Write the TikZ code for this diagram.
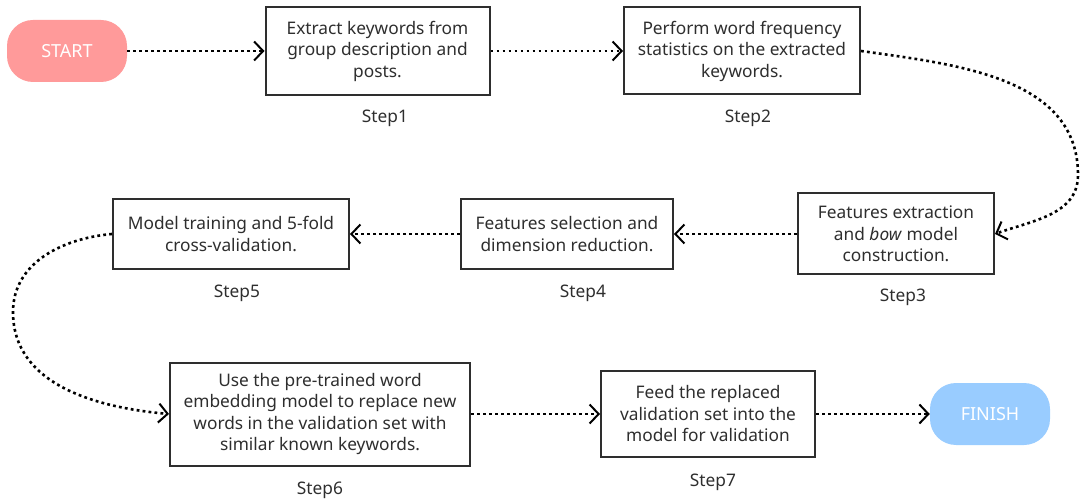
\documentclass[tikz,border=0pt]{standalone}
\usepackage{fontspec}
\setmainfont{Noto Sans}
\usetikzlibrary{arrows.meta}
\definecolor{txt}{HTML}{2E2E2E}
\definecolor{startc}{HTML}{FF9A9A}
\definecolor{finishc}{HTML}{99CCFF}
\tikzset{
  stepbox/.style={draw=txt, line width=2pt, fill=white, align=center, text=txt,
    inner sep=0pt, font=\fontsize{17.3}{21.5}\selectfont},
  pill/.style={rounded corners=26pt, inner sep=0pt, text=white,
    font=\fontsize{18}{20}\selectfont, minimum width=120pt, minimum height=62pt},
  steplabel/.style={text=txt, font=\fontsize{17.3}{20}\selectfont, inner sep=0pt},
  flow/.style={line width=2.6pt, dash pattern=on 2.8pt off 3.2pt,
    -{Straight Barb[length=9pt,width=19pt,line width=2pt]}}
}
\begin{document}
\begin{tikzpicture}[x=1pt,y=-1pt]
\useasboundingbox (0,0) rectangle (1081,502);

% start and finish terminals
\node[pill, fill=startc] (start) at (67,51) {START};
\node[pill, fill=finishc] (finish) at (990,414) {FINISH};

% process steps
\node[stepbox, minimum width=224pt, minimum height=88pt] (s1) at (377.5,51)
  {Extract keywords from\\group description and\\posts.};
\node[stepbox, minimum width=236pt, minimum height=87pt] (s2) at (742,51)
  {Perform word frequency\\statistics on the extracted\\keywords.};
\node[stepbox, minimum width=196pt, minimum height=81pt] (s3) at (896,234)
  {Features extraction\\and \emph{bow} model\\construction.};
\node[stepbox, minimum width=212pt, minimum height=70pt] (s4) at (567,234)
  {Features selection and\\dimension reduction.};
\node[stepbox, minimum width=236pt, minimum height=70pt] (s5) at (231,234)
  {Model training and 5-fold\\cross-validation.};
\node[stepbox, minimum width=300pt, minimum height=103pt] (s6) at (320,414)
  {Use the pre-trained word\\embedding model to replace new\\words in the validation set with\\similar known keywords.};
\node[stepbox, minimum width=214pt, minimum height=86pt] (s7) at (708,414)
  {Feed the replaced\\validation set into the\\model for validation};

% step captions
\node[steplabel] (l1) at (385,118) {Step1};
\node[steplabel] (l2) at (748,118) {Step2};
\node[steplabel] (l3) at (903,297) {Step3};
\node[steplabel] (l4) at (583,293) {Step4};
\node[steplabel] (l5) at (237,293) {Step5};
\node[steplabel] (l6) at (320,490) {Step6};
\node[steplabel] (l7) at (713,482) {Step7};

% bend points of the curved connectors
\coordinate (r1) at (1078,175);
\coordinate (r2) at (13,312);

% connectors
\draw[flow] (start.east) -- (s1.west);
\draw[flow] (s1.east) -- (s2.west);
\draw[flow] (s2.east) to[out=-8,in=90] (r1) to[out=-90,in=20] (s3.east);
\draw[flow] (s3.west) -- (s4.east);
\draw[flow] (s4.west) -- (s5.east);
\draw[flow] (s5.west) to[out=185,in=90] (r2) to[out=-90,in=175] (s6.west);
\draw[flow] (s6.east) -- (s7.west);
\draw[flow] (s7.east) -- (finish.west);
\end{tikzpicture}
\end{document}
